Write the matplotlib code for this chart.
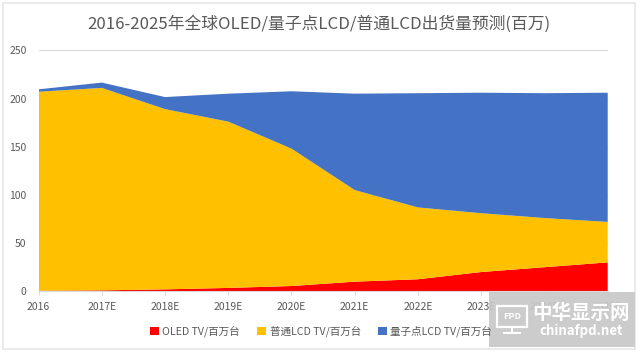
from matplotlib import pyplot as plt
from matplotlib.patches import Rectangle

plt.rcParams['font.family'] = ['Noto Sans CJK SC', 'DejaVu Sans']

years = ["2016", "2017E", "2018E", "2019E", "2020E", "2021E", "2022E", "2023E", "2024E", "2025E"]
oled = [0.5, 1, 2, 3.5, 5.5, 10, 12.5, 20, 25, 30]
lcd = [206.5, 210, 187, 172.5, 142.5, 95, 74.5, 61, 51, 42]
qd = [2.5, 5.5, 12.5, 29, 59.5, 100, 118.5, 125, 129.5, 134]
y_ticks = [0, 50, 100, 150, 200, 250]
names = ["OLED TV/百万台", "普通LCD TV/百万台", "量子点LCD TV/百万台"]
colors = ["#ff0000", "#ffc000", "#4472c4"]

W, H = 640, 352
fig = plt.figure(figsize=(W / 100, H / 100), dpi=100)
ax = fig.add_axes([38.5 / W, 1 - 291.3 / H, 569.2 / W, 241 / H])

x = list(range(len(years)))
polys = ax.stackplot(x, oled, lcd, qd, colors=colors, labels=names, linewidth=0)

ax.set_xlim(0, 9)
ax.set_ylim(0, 250)
ax.set_xticks(x)
ax.set_xticklabels(years, fontsize=7.5, color="#595959")
ax.set_yticks(y_ticks)
ax.tick_params(axis="y", length=0, labelsize=7.5, labelcolor="#595959", pad=8.5)
ax.tick_params(axis="x", length=3, width=0.7, color="#d9d9d9", pad=5)
ax.grid(axis="y", color="#d9d9d9", linewidth=0.8)
ax.set_axisbelow(True)
for s in ["top", "left", "right"]:
    ax.spines[s].set_visible(False)
ax.spines["bottom"].set_color("#d9d9d9")

# 标题
fig.text(319 / W, 1 - 24.5 / H, "2016-2025年全球OLED/量子点LCD/普通LCD出货量预测(百万)",
         fontsize=12.1, color="#595959", ha="center", va="center")

# 图例
fig.legend(handles=polys, labels=names, loc="center", bbox_to_anchor=(321 / W, 1 - 331.5 / H),
           ncol=3, frameon=False, fontsize=7.6, labelcolor="#595959", handlelength=0.85,
           handleheight=0.85, handletextpad=0.35, columnspacing=1.6)

# 外框
fig.add_artist(Rectangle((2.5 / W, 1 - 348.5 / H), 632 / W, 346 / H, transform=fig.transFigure,
                         fill=False, edgecolor="#e6e6e6", linewidth=1.2))

# 水印
fig.add_artist(Rectangle((489 / W, 1 - 347 / H), 146 / W, 55 / H, transform=fig.transFigure,
                         facecolor="#c8c8c8", edgecolor="none", alpha=0.93, zorder=5))
fig.add_artist(Rectangle((497 / W, 1 - 327 / H), 30 / W, 21 / H, transform=fig.transFigure,
                         fill=False, edgecolor="white", linewidth=1.6, zorder=6))
fig.add_artist(Rectangle((503 / W, 1 - 334 / H), 18 / W, 1.8 / H, transform=fig.transFigure,
                         facecolor="white", edgecolor="none", zorder=6))
fig.add_artist(Rectangle((511 / W, 1 - 334 / H), 2 / W, 7 / H, transform=fig.transFigure,
                         facecolor="white", edgecolor="none", zorder=6))
fig.text(512 / W, 1 - 316.5 / H, "FPD", fontsize=6.5, color="white", weight="bold",
         ha="center", va="center", zorder=7)
fig.text(581 / W, 1 - 313 / H, "中华显示网", fontsize=14, color="white", weight="bold",
         ha="center", va="center", zorder=7)
fig.text(581.5 / W, 1 - 331 / H, "chinafpd.net", fontsize=9.5, color="white", weight="bold",
         ha="center", va="center", zorder=7)

plt.savefig("out.png", dpi=100)
